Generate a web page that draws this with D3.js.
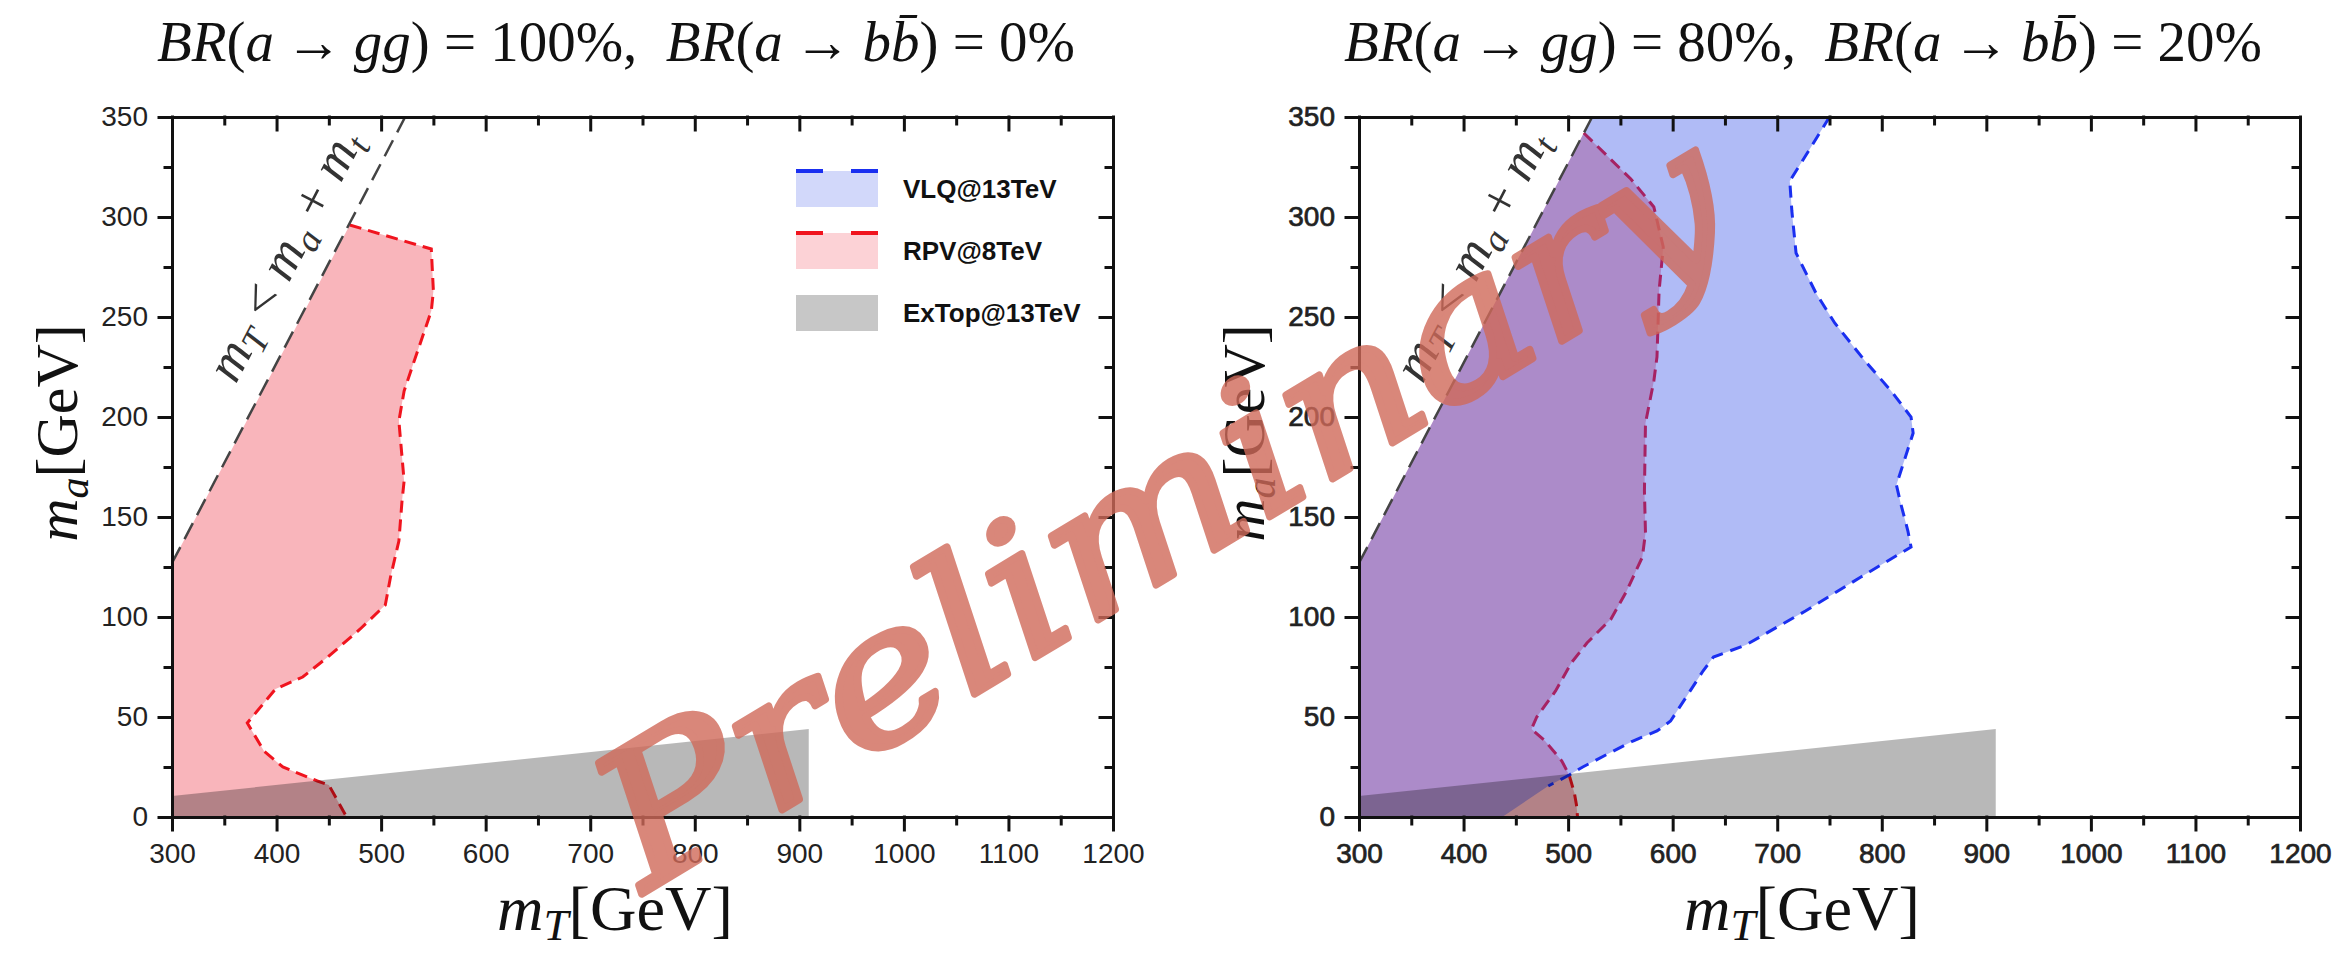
<!DOCTYPE html>
<html>
<head>
<meta charset="utf-8">
<script src="https://cdn.jsdelivr.net/npm/d3@7"></script>
<style>
body { margin: 0; background: #fff; }
svg { display: block; }
.tick text { font-family: "Liberation Sans", Arial, sans-serif; font-size: 28px; fill: #222; }
.bold .tick text { stroke: #222; stroke-width: 0.7px; }
.domain, .tick line { stroke: #111; stroke-width: 3; stroke-linecap: square; }
.math { font-family: "Liberation Serif", "Times New Roman", serif; fill: #111; white-space: pre; }
.legend text { font-family: "Liberation Sans", Arial, sans-serif; font-weight: bold; font-size: 26px; fill: #111; }
</style>
</head>
<body>
<svg id="chart" width="2335" height="954"></svg>
<script>
// ticks
let xMajor = [300, 400, 500, 600, 700, 800, 900, 1000, 1100, 1200],
    xMinor = [350, 450, 550, 650, 750, 850, 950, 1050, 1150],
    yMajor = [0, 50, 100, 150, 200, 250, 300, 350],
    yMinor = [25, 75, 125, 175, 225, 275, 325];

// panel titles: BR(a -> gg), BR(a -> bb)
let brGG = ["100%", "80%"],
    brBB = ["0%", "20%"];

// kinematic limit mT = ma + mt (end points, GeV)
let diagLine = [[300, 127], [523, 350]];

// ExTop@13TeV: upper edge of the grey band
let exTopEdge = [[300, 10.5], [909, 44]];

// RPV@8TeV boundary [mT, ma], left panel (100% gg)
let rpvLeft = [[470, 296], [548, 284], [550, 263], [548, 253], [531, 227], [522, 213], [517, 198],
    [522, 168], [520, 158], [517, 138], [509, 120], [504, 106], [480, 94], [449, 80], [425, 70],
    [399, 64], [372, 47], [388, 33], [406, 25], [439, 18], [450, 16], [467, 0]];

// RPV@8TeV boundary, right panel (80% gg)
let rpvRight = [[515, 342], [560, 319], [582, 305], [591, 285], [587, 263], [585, 230], [582, 218],
    [574, 197], [573, 163], [574, 142], [571, 130], [556, 113], [541, 99], [518, 87], [503, 77],
    [488, 63], [470, 50], [465, 44], [478, 38], [494, 28], [501, 21], [506, 12], [508, 6], [509, 0]];

// VLQ@13TeV boundary, right panel
let vlqRight = [[750, 350], [730, 333], [712, 318], [714, 303], [718, 282], [737, 262], [755, 247],
    [784, 228], [809, 213], [828, 200], [830, 192], [814, 166], [818, 157], [825, 143], [828, 135],
    [780, 120], [727, 103], [700, 95], [670, 86], [639, 80], [629, 73], [613, 60], [598, 48],
    [585, 43], [562, 38], [536, 31], [514, 25], [501, 21], [481, 15.5], [437, 0]];

let legendNames = ["VLQ@13TeV", "RPV@8TeV", "ExTop@13TeV"];

let svg = d3.select("#chart"),
    W = 941,
    H = 700,
    plotTop = 117,
    panelLeft = [172, 1359];

let rpvFill = "rgba(238,30,50,0.33)",
    vlqFill = "rgba(30,60,230,0.35)",
    greyFill = "rgba(0,0,0,0.28)",
    red = "#f0141e",
    blue = "#1a2ff0";

let x = d3.scaleLinear().domain([300, 1200]).range([0, W]),
    y = d3.scaleLinear().domain([0, 350]).range([H, 0]);

let line = d3.line().x(d => x(d[0])).y(d => y(d[1]));

// fit a text element to a given width by scaling its font size
function fitWidth(sel, width) {
    let fs = parseFloat(sel.style("font-size")),
        len = sel.node().getComputedTextLength();
    sel.style("font-size", (fs * width / len) + "px");
}

function addMath(sel, parts) {
    parts.forEach(p => {
        let t = sel.append("tspan").text(p[0]);
        if (p[1]) t.style("font-style", "italic");
        if (p[2]) t.style("font-size", p[2]);
        if (p[3]) t.attr("dy", p[3]);
    });
}

function drawPanel(i) {
    let g = svg.append("g")
        .attr("transform", "translate(" + [panelLeft[i], plotTop] + ")");

    g.append("clipPath").attr("id", "clip" + i)
        .append("rect").attr("width", W).attr("height", H);

    let plot = g.append("g").attr("clip-path", "url(#clip" + i + ")");

    let rpv = i === 0 ? rpvLeft : rpvRight;

    plot.append("path")
        .attr("d", line([[300, 0], diagLine[0]].concat(rpv)) + "Z")
        .attr("fill", rpvFill);
    plot.append("path")
        .attr("d", line(rpv))
        .attr("fill", "none")
        .attr("stroke", red)
        .attr("stroke-width", 3)
        .attr("stroke-dasharray", "12,7");

    if (i === 1) {
        plot.append("path")
            .attr("d", line([[300, 0]].concat(diagLine, vlqRight)) + "Z")
            .attr("fill", vlqFill);
        plot.append("path")
            .attr("d", line(vlqRight.slice(0, -1)))
            .attr("fill", "none")
            .attr("stroke", blue)
            .attr("stroke-width", 3)
            .attr("stroke-dasharray", "12,8");
    }

    plot.append("path")
        .attr("d", line([[300, 0]].concat(exTopEdge, [[exTopEdge[1][0], 0]])) + "Z")
        .attr("fill", greyFill);

    plot.append("path")
        .attr("d", line(diagLine))
        .attr("fill", "none")
        .attr("stroke", "#444")
        .attr("stroke-width", 2.5)
        .attr("stroke-dasharray", "18,9");

    // label along the kinematic limit
    let ang = Math.atan2(y(0) - y(1), x(1) - x(0)) * 180 / Math.PI;
    let lbl = g.append("text")
        .attr("class", "math")
        .attr("transform", "translate(" + [x(444), y(271)] + ") rotate(" + (-ang) + ")")
        .attr("y", -26)
        .attr("text-anchor", "middle")
        .style("font-size", "40px")
        .style("fill", "#333");
    addMath(lbl, [["m", 1], ["T", 1, "0.7em", "0.25em"], [" < ", 0, "1em", "-0.175em"], ["m", 1],
        ["a", 1, "0.7em", "0.25em"], [" + ", 0, "1em", "-0.175em"], ["m", 1], ["t", 1, "0.7em", "0.25em"]]);
    fitWidth(lbl, 275);

    // axes
    let ax = g.append("g").attr("class", i === 1 ? "bold" : "");
    ax.append("g").attr("transform", "translate(0," + H + ")")
        .call(d3.axisBottom(x).tickValues(xMajor).tickSize(13).tickPadding(13).tickSizeOuter(0).tickFormat(d3.format("d")));
    ax.append("g").attr("transform", "translate(0," + H + ")")
        .call(d3.axisBottom(x).tickValues(xMinor).tickSize(7).tickSizeOuter(0).tickFormat(""));
    ax.append("g")
        .call(d3.axisLeft(y).tickValues(yMajor).tickSize(13).tickPadding(11).tickSizeOuter(0).tickFormat(d3.format("d")));
    ax.append("g")
        .call(d3.axisLeft(y).tickValues(yMinor).tickSize(7).tickSizeOuter(0).tickFormat(""));
    ax.append("g")
        .call(d3.axisTop(x).tickValues(xMajor).tickSize(-13).tickSizeOuter(0).tickFormat(""));
    ax.append("g")
        .call(d3.axisTop(x).tickValues(xMinor).tickSize(-7).tickSizeOuter(0).tickFormat(""));
    ax.append("g").attr("transform", "translate(" + W + ",0)")
        .call(d3.axisRight(y).tickValues(yMajor).tickSize(-13).tickSizeOuter(0).tickFormat(""));
    ax.append("g").attr("transform", "translate(" + W + ",0)")
        .call(d3.axisRight(y).tickValues(yMinor).tickSize(-7).tickSizeOuter(0).tickFormat(""));

    // axis titles
    let xt = g.append("text").attr("class", "math")
        .attr("x", 443).attr("y", 813)
        .attr("text-anchor", "middle")
        .style("font-size", "60px");
    addMath(xt, [["m", 1], ["T", 1, "0.7em", "0.22em"], ["[GeV]", 0, "1em", "-0.154em"]]);
    fitWidth(xt, 236);

    let yt = g.append("text").attr("class", "math")
        .attr("transform", "translate(" + [-95, 316] + ") rotate(-90)")
        .attr("text-anchor", "middle")
        .style("font-size", "60px");
    addMath(yt, [["m", 1], ["a", 1, "0.7em", "0.25em"], ["[GeV]", 0, "1em", "-0.175em"]]);

    // panel title
    let tt = g.append("text").attr("class", "math")
        .attr("x", 444).attr("y", -56)
        .attr("text-anchor", "middle")
        .style("font-size", "50px");
    addMath(tt, [["BR", 1], ["("], ["a", 1], ["\u2009\u2192\u2009"], ["gg", 1], [") = " + brGG[i] + ",  "],
        ["BR", 1], ["("], ["a", 1], ["\u2009\u2192\u2009"], ["bb\u0304", 1], [") = " + brBB[i]]]);
    fitWidth(tt, 918);

    return g;
}

let left = drawPanel(0);
drawPanel(1);

// legend (left panel)
let legend = left.append("g").attr("class", "legend")
    .attr("transform", "translate(" + [W - 317, 54] + ")");
let legFill = ["rgba(30,60,230,0.2)", "rgba(238,30,50,0.2)", "rgba(0,0,0,0.22)"],
    legStroke = [blue, red, null];

legendNames.forEach((name, k) => {
    let row = legend.append("g").attr("transform", "translate(0," + (k * 62) + ")");
    row.append("rect").attr("width", 82).attr("height", 36).attr("fill", legFill[k]);
    if (legStroke[k]) {
        row.append("line")
            .attr("x2", 82)
            .attr("stroke", legStroke[k])
            .attr("stroke-width", 4)
            .attr("stroke-dasharray", "27,28");
    }
    row.append("text")
        .attr("x", 107)
        .attr("y", 18)
        .attr("dy", "0.36em")
        .text(name);
});

// "Preliminary" stamp over the figure
svg.append("g")
    .attr("opacity", 0.8)
    .append("text")
    .attr("transform", "translate(1165,515) rotate(-31)")
    .attr("text-anchor", "middle")
    .attr("dy", "0.3em")
    .attr("textLength", 1280)
    .attr("lengthAdjust", "spacingAndGlyphs")
    .style("font-family", "'DejaVu Serif', serif")
    .style("font-style", "italic")
    .style("font-size", "185px")
    .style("fill", "#d06a5a")
    .style("stroke", "#d06a5a")
    .style("stroke-width", 7)
    .style("stroke-linejoin", "round")
    .text("Preliminary");
</script>
</body>
</html>
